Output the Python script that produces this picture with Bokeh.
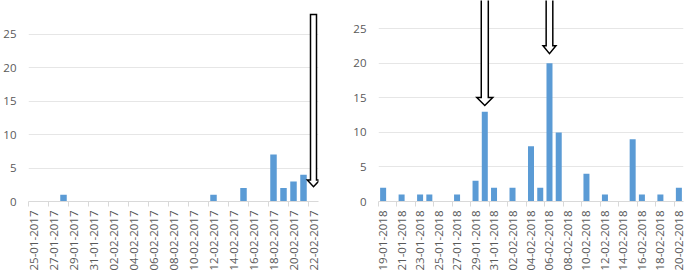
from bokeh.plotting import figure
from bokeh.layouts import row
from bokeh.models import ColumnDataSource, FixedTicker, Range1d
from bokeh.embed import file_html
from bokeh.resources import INLINE

# ---------------- data ----------------
dates_2017 = ["25-01-2017", "26-01-2017", "27-01-2017", "28-01-2017", "29-01-2017", "30-01-2017",
              "31-01-2017", "01-02-2017", "02-02-2017", "03-02-2017", "04-02-2017", "05-02-2017",
              "06-02-2017", "07-02-2017", "08-02-2017", "09-02-2017", "10-02-2017", "11-02-2017",
              "12-02-2017", "13-02-2017", "14-02-2017", "15-02-2017", "16-02-2017", "17-02-2017",
              "18-02-2017", "19-02-2017", "20-02-2017", "21-02-2017", "22-02-2017"]
counts_2017 = [0, 0, 0, 1, 0, 0, 0, 0, 0, 0, 0, 0, 0, 0, 0, 0, 0, 0,
               1, 0, 0, 2, 0, 0, 7, 2, 3, 4, 0]

dates_2018 = ["19-01-2018", "20-01-2018", "21-01-2018", "22-01-2018", "23-01-2018", "24-01-2018",
              "25-01-2018", "26-01-2018", "27-01-2018", "28-01-2018", "29-01-2018", "30-01-2018",
              "31-01-2018", "01-02-2018", "02-02-2018", "03-02-2018", "04-02-2018", "05-02-2018",
              "06-02-2018", "07-02-2018", "08-02-2018", "09-02-2018", "10-02-2018", "11-02-2018",
              "12-02-2018", "13-02-2018", "14-02-2018", "15-02-2018", "16-02-2018", "17-02-2018",
              "18-02-2018", "19-02-2018", "20-02-2018"]
counts_2018 = [2, 0, 1, 0, 1, 1, 0, 0, 1, 0, 3, 13, 2, 0, 2, 0, 8, 2, 20, 10, 0, 0,
               4, 0, 1, 0, 0, 9, 1, 0, 1, 0, 2]

y_ticks = [0, 5, 10, 15, 20, 25]

# arrow annotations: date pointed at, tip height, top height
arrows_2017 = {"dates": ["22-02-2017"], "tips": [2.2], "tops": [27.9]}
arrows_2018 = {"dates": ["30-01-2018", "06-02-2018"], "tips": [13.9, 21.4], "tops": [32.0, 32.0]}

BAR = "#5b9bd5"
TXT = "#595959"
GRID = "#e6e6e6"
AXIS = "#d9d9d9"
FONT = "Open Sans"


def make_panel(dates, counts, arrows, width, border_left, border_right, border_bottom,
               y_end, shaft, head, head_len):
    n = len(dates)
    idx = list(range(n))
    p = figure(width=width, height=273, output_backend="svg", toolbar_location=None,
               x_range=Range1d(-0.5, n - 0.5), y_range=Range1d(0, y_end),
               min_border_left=border_left, min_border_right=border_right,
               min_border_top=0, min_border_bottom=border_bottom)
    p.outline_line_color = None
    src = ColumnDataSource(dict(x=idx, top=counts))
    p.vbar(x="x", top="top", width=0.65, source=src, fill_color=BAR, line_color=None)

    # hollow down arrows
    xs, ys = [], []
    for d, t, T, s, h in zip(arrows["dates"], arrows["tips"], arrows["tops"], shaft, head):
        c = dates.index(d)
        xs.append([c - s, c + s, c + s, c + h, c, c - h, c - s])
        ys.append([T, T, t + head_len, t + head_len, t, t + head_len, t + head_len])
    p.patches(xs, ys, fill_color="white", line_color="black", line_width=1.5,
              line_join="miter")

    # x axis
    ticks = idx[::2]
    p.xaxis.ticker = FixedTicker(ticks=ticks, minor_ticks=[i - 0.5 for i in ticks])
    p.xaxis.major_label_overrides = {i: dates[i] for i in ticks}
    p.xaxis.major_label_orientation = 1.5707963
    p.xaxis.major_tick_line_color = None
    p.xaxis.major_tick_out = 0
    p.xaxis.major_tick_in = 0
    p.xaxis.minor_tick_line_color = AXIS
    p.xaxis.minor_tick_out = 5
    p.xaxis.minor_tick_in = 0
    p.xaxis.axis_line_color = AXIS
    p.xaxis.axis_line_width = 1
    p.xaxis.major_label_text_font = FONT
    p.xaxis.major_label_text_font_size = "11.5px"
    p.xaxis.major_label_text_color = TXT
    p.xaxis.major_label_standoff = 4

    # y axis
    p.yaxis.ticker = FixedTicker(ticks=y_ticks)
    p.yaxis.axis_line_color = None
    p.yaxis.major_tick_line_color = None
    p.yaxis.major_tick_out = 0
    p.yaxis.major_tick_in = 0
    p.yaxis.minor_tick_line_color = None
    p.yaxis.major_label_text_font = FONT
    p.yaxis.major_label_text_font_size = "11.5px"
    p.yaxis.major_label_text_color = TXT
    p.yaxis.major_label_standoff = 12

    p.xgrid.grid_line_color = None
    p.ygrid.grid_line_color = GRID
    p.ygrid.grid_line_width = 1
    return p


p1 = make_panel(dates_2017, counts_2017, arrows_2017, 340, 25, 22, 71, 30.0,
                [0.3], [0.62], 1.0)
p2 = make_panel(dates_2018, counts_2018, arrows_2018, 345, 38, 2, 72, 29.1,
                [0.38, 0.36], [0.86, 0.7], 1.15)

layout = row(p1, p2)
open("out.html", "w").write(file_html(layout, INLINE))
